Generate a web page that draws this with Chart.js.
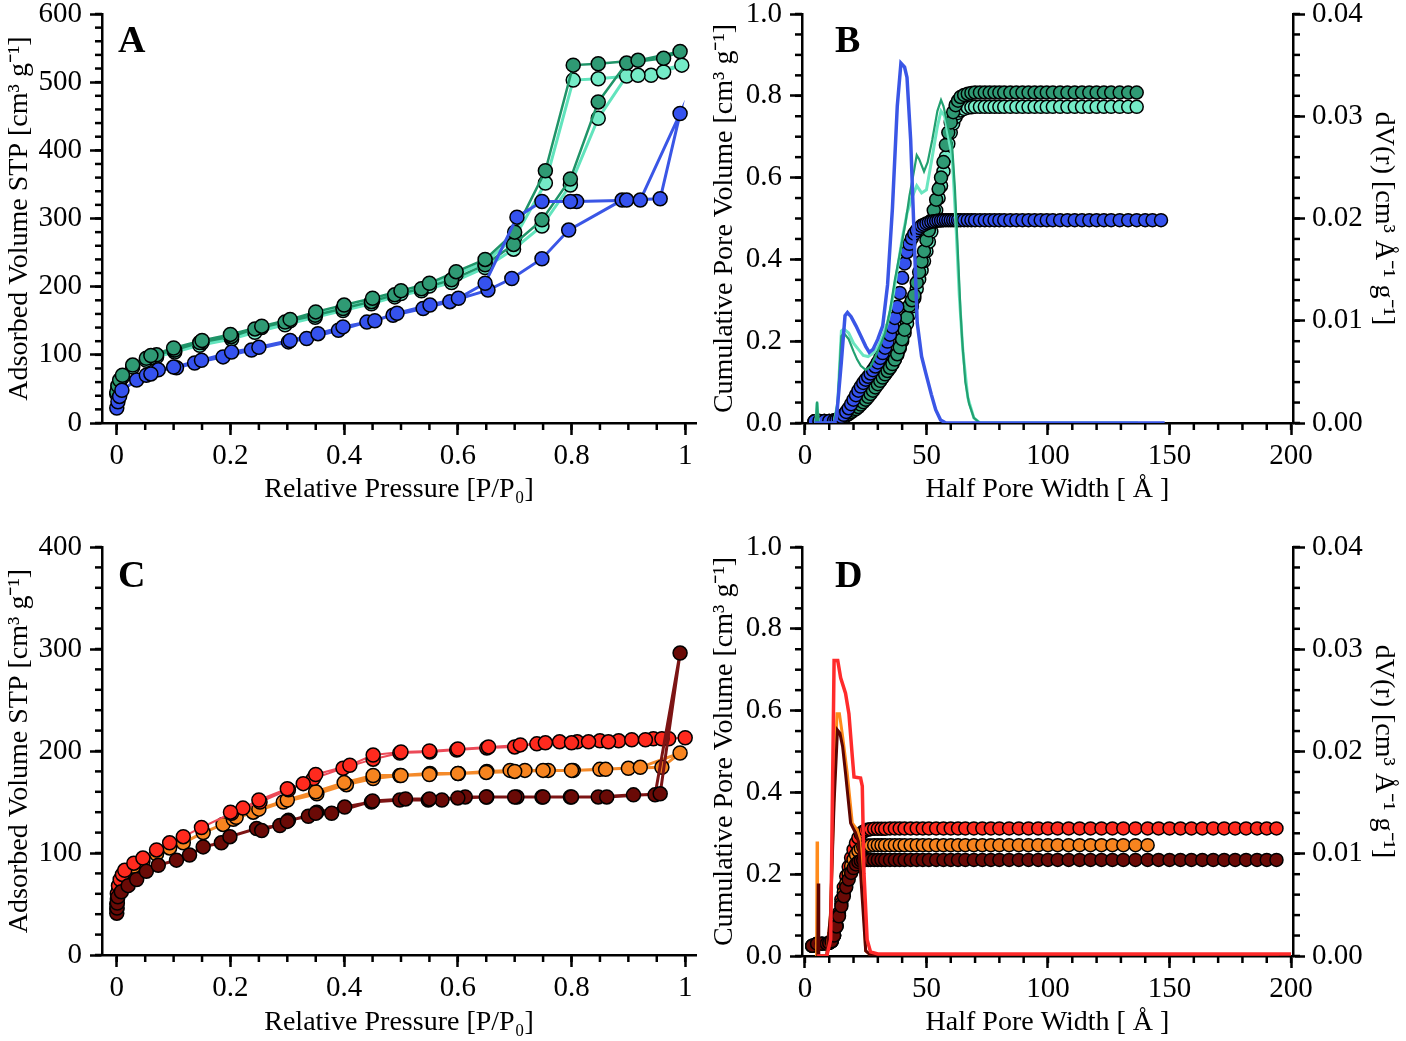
<!DOCTYPE html>
<html>
<head>
<meta charset="utf-8">
<script src="https://cdn.jsdelivr.net/npm/chart.js@4.4.0/dist/chart.umd.min.js"></script>
<style>
  html, body { margin: 0; padding: 0; background: #fff; }
  body { width: 1406px; height: 1041px; position: relative; overflow: hidden; }
  canvas { position: absolute; }
</style>
</head>
<body>
<canvas id="cA" width="703" height="508" style="left:0;top:0;width:703px;height:508px"></canvas>
<canvas id="cB" width="703" height="508" style="left:703px;top:0;width:703px;height:508px"></canvas>
<canvas id="cC" width="703" height="509" style="left:0;top:532px;width:703px;height:509px"></canvas>
<canvas id="cD" width="703" height="509" style="left:703px;top:532px;width:703px;height:509px"></canvas>
<script>
// ---- tick labels ----
const isoTicks = [0, 0.2, 0.4, 0.6, 0.8, 1];
const isoLabels = ['0', '0.2', '0.4', '0.6', '0.8', '1'];
const aTicks = [0, 100, 200, 300, 400, 500, 600];
const aLabels = ['0', '100', '200', '300', '400', '500', '600'];
const cTicks = [0, 100, 200, 300, 400];
const cLabels = ['0', '100', '200', '300', '400'];
const wTicks = [0, 50, 100, 150, 200];
const wLabels = ['0', '50', '100', '150', '200'];
const cumTicks = [0, 0.2, 0.4, 0.6, 0.8, 1.0];
const cumLabels = ['0.0', '0.2', '0.4', '0.6', '0.8', '1.0'];
const dvTicks = [0, 0.01, 0.02, 0.03, 0.04];
const dvLabels = ['0.00', '0.01', '0.02', '0.03', '0.04'];

// ---- panel A: isotherms (adsorption then desorption) ----
const aBlueP = [0,0.002,0.005,0.009,0.035,0.052,0.073,0.105,0.137,0.187,0.237,0.302,0.334,0.39,0.44,0.486,0.539,0.586,0.653,0.695,0.748,0.795,0.889,0.897,0.956,0.991,
  0.921,0.809,0.798,0.748,0.704,0.648,0.601,0.551,0.493,0.454,0.398,0.354,0.305,0.25,0.202,0.149,0.1,0.06];
const aBlueV = [22,31,39,48,63,70,78,81,88,97,107,119,124,136,148,158,168,178,195,212,241,283,327,327,329,454,
  327,325,325,325,302,205,183,173,161,150,141,131,121,111,104,92,82,72];
const aDarkP = [0,0.002,0.005,0.01,0.028,0.052,0.07,0.102,0.146,0.202,0.243,0.296,0.349,0.398,0.448,0.489,0.536,0.589,0.648,0.698,0.748,0.798,0.847,0.897,0.962,0.991,
  0.917,0.847,0.803,0.754,0.70,0.648,0.597,0.55,0.50,0.45,0.40,0.35,0.305,0.255,0.2,0.15,0.1,0.06];
const aDarkV = [45,55,63,70,85,95,100,107,118,127,138,148,158,168,178,188,197,210,232,262,298,358,471,528,535,545,
  532,527,525,370,280,240,222,205,194,183,173,163,152,142,130,121,110,99];
const aLightP = [0,0.002,0.005,0.01,0.028,0.052,0.07,0.102,0.146,0.202,0.243,0.296,0.349,0.398,0.448,0.489,0.536,0.589,0.648,0.698,0.748,0.798,0.847,0.897,0.94,0.962,0.994,
  0.917,0.847,0.803,0.754,0.70,0.648,0.597,0.55,0.50,0.45,0.40,0.35,0.305,0.255,0.2,0.15,0.1,0.06];
const aLightV = [42,52,60,67,82,92,97,104,114,123,133,144,155,165,175,185,194,206,228,255,289,349,447,509,510,515,525,
  510,505,503,352,272,236,218,201,190,179,169,160,150,140,127,118,107,96];

// ---- panel B: cumulative pore volume and dV(r) ----
const bW = [4,6,8,10,12,13,14,15,16,17,18,19,20,21,22,23,24,25,26,27,28,29,30,31,32,33,34,35,36,37,38,39,40,41,42,43,44,45,46,47,48,49,50,
  51,52,53,54,55,56,57,58,59,60,61,62,63,64,65.5,67,68.5,70,72,74,76,78,80,82,84.5,87,89.5,92,94.5,97,99.5,102,105,108,111,114,117,120,123,126,129.5,133,136.5,140,143,146.5];
const bBlueV = [0.004,0.005,0.005,0.005,0.006,
  0.008,0.011,0.015,0.02,0.027,0.036,0.046,0.057,0.068,0.079,0.089,0.098,0.106,0.113,0.121,0.129,0.138,0.148,0.159,0.171,0.184,0.199,0.216,0.235,0.257,
  0.284,0.318,0.355,0.39,0.418,0.438,0.452,0.463,0.471,0.477,0.482,0.485,0.488,0.49,0.492,0.493,0.494,0.495,0.495,
  0.496,0.496,0.496,0.496,0.496,0.496,0.496,0.496,0.496,0.496,
  0.496,0.496,0.496,0.496,0.496,0.496,0.496,0.496,0.496,0.496,
  0.496,0.496,0.496,0.496,0.496,0.496,0.496,0.496,0.496,0.496,
  0.496,0.496,0.496,0.496,0.496,0.496,0.496,0.496,0.496,0.496];
const bDarkV = [0.004,0.005,0.005,0.005,0.006,
  0.007,0.009,0.012,0.015,0.018,0.022,0.026,0.03,0.034,0.039,0.045,0.051,0.057,0.064,0.071,0.079,0.087,0.095,0.103,0.111,0.119,0.127,0.135,0.144,0.155,
  0.168,0.185,0.205,0.228,0.258,0.287,0.3,0.312,0.343,0.369,0.395,0.42,0.447,0.471,0.495,0.52,0.546,0.572,0.6,0.638,0.68,0.71,0.735,0.76,0.777,0.788,0.797,
  0.802,0.805,0.807,
  0.808,0.808,0.808,0.808,0.808,0.808,0.808,0.808,0.808,0.808,
  0.808,0.808,0.808,0.808,0.808,0.808,0.808,0.808,0.808,0.808,
  0.808,0.808,0.808,0.808,0.808,0.808];
const bLightV = [0.004,0.005,0.005,0.005,0.006,
  0.007,0.009,0.012,0.016,0.02,0.024,0.029,0.034,0.039,0.044,0.05,0.056,0.062,0.069,0.076,0.083,0.09,0.097,0.104,0.112,0.12,0.128,0.136,0.145,0.155,
  0.167,0.182,0.2,0.22,0.243,0.265,0.285,0.305,0.328,0.351,0.373,0.396,0.42,0.443,0.468,0.493,0.52,0.55,0.58,0.615,0.65,0.683,0.71,0.732,0.748,0.758,0.764,
  0.768,0.771,0.772,
  0.773,0.773,0.773,0.773,0.773,0.773,0.773,0.773,0.773,0.773,
  0.773,0.773,0.773,0.773,0.773,0.773,0.773,0.773,0.773,0.773,
  0.773,0.773,0.773,0.773,0.773,0.773];
const bBlueLineW = [4,12,13,15,16.5,17.5,19,21,23,25,26.5,28,30,32,34,36,38,39.5,41,42,43.5,45,46.2,48,49.7,52,53.8,55.8,58,148];
const bBlueLineD = [0,0,0.0005,0.006,0.0105,0.0108,0.0104,0.0095,0.0085,0.0075,0.0069,0.0072,0.0082,0.0095,0.0135,0.021,0.031,0.0352,0.0348,0.0338,0.0277,0.0179,0.0098,0.0065,0.0049,0.0028,0.0013,0.0003,0,0];
const bDarkLineW = [4.5,5,5.5,12,13.5,15,16,18,20,21.5,23,25,27,29,31,33,35,37,39,41.4,43,45,46,47,49,50.5,52.4,54.5,56,57,58.6,60.6,61.7,62.7,64,64.7,66,67.5,69.5,72,137];
const bDarkLineD = [0,0.0021,0,0,0.002,0.0085,0.0088,0.0082,0.007,0.0062,0.0056,0.0052,0.0055,0.0065,0.0076,0.0088,0.011,0.014,0.0165,0.0196,0.0222,0.0248,0.0262,0.0258,0.0246,0.0255,0.0277,0.0305,0.0316,0.031,0.0293,0.027,0.023,0.0179,0.011,0.0081,0.004,0.0019,0.0005,0,0];
const bLightLineW = [4.5,5,5.5,12,13.5,15,16,18,20,22,24,26,28,30,32,34,36,38,40,42,44,46,48,50,52,54.5,56,57.5,59,60.6,62,63.5,65,67,69.5,72,137];
const bLightLineD = [0,0.002,0,0,0.002,0.009,0.0092,0.0088,0.0078,0.0072,0.0066,0.0065,0.0068,0.0074,0.0085,0.0098,0.012,0.015,0.018,0.0205,0.022,0.0232,0.0225,0.0228,0.0255,0.029,0.0305,0.03,0.028,0.026,0.02,0.0125,0.007,0.0025,0.0005,0,0];

// ---- panel C: isotherms ----
const cRedP = [0,0.001,0.003,0.006,0.01,0.014,0.03,0.046,0.07,0.093,0.117,0.149,0.202,0.252,0.302,0.346,0.398,0.451,0.498,0.551,0.598,0.651,0.70,0.739,0.779,0.81,0.85,0.883,0.906,0.944,0.971,1.0,
  0.959,0.93,0.865,0.83,0.80,0.754,0.71,0.654,0.60,0.55,0.50,0.451,0.41,0.35,0.328,0.30,0.25,0.222,0.20];
const cRedV = [50,60,68,74,79,83,90,95,103,110,116,125,139,150,162,173,183,192,198,199,201,203,204,207,209,209,210,210,211,212,212,213,
  212,211,209,209,208,208,206,204,202,200,199,196,186,177,168,163,152,144,140];
const cOrangeP = [0,0.001,0.003,0.006,0.01,0.014,0.03,0.046,0.07,0.093,0.117,0.152,0.187,0.205,0.24,0.293,0.352,0.404,0.451,0.498,0.551,0.601,0.651,0.692,0.718,0.759,0.803,0.85,0.9,0.959,0.991,
  0.921,0.86,0.80,0.75,0.70,0.65,0.60,0.55,0.50,0.451,0.40,0.35,0.30,0.25,0.21];
const cOrangeV = [45,55,63,70,76,80,87,92,99,105,110,120,128,133,140,150,158,167,173,176,178,178,180,181,181,181,181,182,183,184,198,
  184,182,181,181,180,179,178,177,176,176,169,160,152,143,135];
const cBrownP = [0,0.0005,0.001,0.002,0.008,0.02,0.035,0.052,0.073,0.105,0.128,0.152,0.184,0.199,0.246,0.287,0.302,0.337,0.352,0.401,0.448,0.498,0.548,0.572,0.613,0.651,0.704,0.748,0.798,0.847,0.909,0.947,0.991,
  0.956,0.862,0.80,0.75,0.70,0.65,0.60,0.55,0.508,0.45,0.378,0.35,0.30,0.255];
const cBrownV = [41,46,51,57,62,68,74,82,88,93,98,106,110,116,124,127,132,136,140,145,150,152,152,152,155,155,155,155,155,155,157,157,296,
  158,155,155,155,155,155,154,153,153,151,139,139,131,122];

// ---- panel D: cumulative pore volume and dV(r) ----
const dW = [3,5,7,9,10,11,12,13,14,15,16,17,18,19,20,21,22,23,24,25,26,27,28.5,30,31.5,33,35,37,39,41,43.5,46,48.5,51,54,57,60,63,66,69.5,73,76.5,80,
  84,88,92,96,100,104,108.5,113,117.5,122,126.5,131,136,141,145.5,150,154.5,159,163.5,168,172.5,177,181.5,186,190,194];
const dRedV = [0.025,0.03,0.03,0.03,0.032,0.036,0.05,0.075,0.105,0.138,0.168,0.195,0.218,0.24,0.26,0.276,0.289,0.298,0.304,0.307,0.309,0.31,
  0.311,0.311,0.311,0.311,
  0.312,0.312,0.312,0.312,0.312,0.312,0.312,0.312,0.312,0.312,
  0.312,0.312,0.312,0.312,0.312,0.312,0.312,0.312,0.312,0.312,
  0.312,0.312,0.312,0.312,0.312,0.312,0.312,0.312,0.312,0.312,
  0.312,0.312,0.312,0.312,0.312,0.312,0.312,0.312,0.312,0.312,
  0.312,0.312,0.312];
const dOrangeV = [0.025,0.03,0.03,0.03,0.032,0.036,0.05,0.073,0.1,0.128,0.155,0.178,0.2,0.22,0.236,0.248,0.257,0.263,0.267,0.269,0.27,0.27,
  0.271,0.271,0.271,0.271,0.271,0.271,0.271,0.271,0.271,0.271,
  0.271,0.271,0.271,0.271,0.271,0.271,0.271,0.271,0.271,0.271,
  0.271,0.271,0.271,0.271,0.271,0.271,0.271,0.271,0.271,0.271,
  0.271,0.271,0.271,0.271,0.271];
const dBrownV = [0.025,0.03,0.03,0.03,0.032,0.036,0.05,0.072,0.097,0.122,0.146,0.168,0.187,0.203,0.215,0.224,0.23,0.233,0.234,
  0.235,0.235,0.235,0.235,0.235,0.235,0.235,0.235,0.235,0.235,
  0.235,0.235,0.235,0.235,0.235,0.235,0.235,0.235,0.235,0.235,
  0.235,0.235,0.235,0.235,0.235,0.235,0.235,0.235,0.235,0.235,
  0.235,0.235,0.235,0.235,0.235,0.235,0.235,0.235,0.235,0.235,
  0.235,0.235,0.235,0.235,0.235,0.235,0.235,0.235,0.235,0.235];
const dRedLineW = [5,9,10.6,12,13.5,14.7,16.7,18.1,19.5,20.2,22.9,23.6,24.3,25.6,27,30,200];
const dRedLineD = [0,0,0.0016,0.0289,0.0289,0.0272,0.0257,0.0237,0.0195,0.0175,0.0174,0.0166,0.0081,0.0016,0.0004,0.0002,0.0002];
const dOrangeLineW = [4.8,5,5.2,9,10.5,12,13.2,14.2,15.5,17.4,19.5,21.6,22.5,23.6,25,27,145];
const dOrangeLineD = [0,0.0112,0,0,0.004,0.016,0.0237,0.0237,0.0215,0.0179,0.013,0.0123,0.0115,0.0081,0.0005,0.0001,0];
const dBrownLineW = [5.3,5.5,5.7,9,10.5,12,13.4,14.4,15.5,16.7,18.8,20.9,22,22.9,25,27,195];
const dBrownLineD = [0,0.0071,0,0,0.004,0.015,0.0221,0.0218,0.0205,0.0179,0.013,0.012,0.0112,0.0081,0.0005,0.0001,0];

const FONT = "'Liberation Serif', 'Times New Roman', serif";

// small minor tick marks, drawn on the scales
const minorTicks = {
  id: 'minorTicks',
  afterDraw(chart, args, opts) {
    const ctx = chart.ctx;
    ctx.save();
    ctx.strokeStyle = '#000';
    ctx.lineWidth = 2.5;
    for (const id in opts.axes) {
      const sc = chart.scales[id];
      const [from, to, step, len] = opts.axes[id];
      for (let v = from; v <= to + step / 1000; v += step) {
        const p = sc.getPixelForValue(v);
        ctx.beginPath();
        if (sc.position === 'left') { ctx.moveTo(sc.right - len, p); ctx.lineTo(sc.right, p); }
        else if (sc.position === 'right') { ctx.moveTo(sc.left, p); ctx.lineTo(sc.left + len, p); }
        else { ctx.moveTo(p, sc.top); ctx.lineTo(p, sc.top + len); }
        ctx.stroke();
      }
    }
    ctx.restore();
  }
};

const panelLetter = {
  id: 'panelLetter',
  afterDraw(chart, args, o) {
    const { ctx, chartArea } = chart;
    ctx.save();
    ctx.font = 'bold 38px ' + FONT;
    ctx.fillStyle = '#000';
    ctx.fillText(o.text, chartArea.left + o.dx, chartArea.top + o.dy);
    ctx.restore();
  }
};

function axis(pos, min, max, ticks, labels, title, size, tickPad, titlePad) {
  return {
    type: 'linear', position: pos, min: min, max: max,
    afterBuildTicks: s => { s.ticks = ticks.map(v => ({ value: v })); },
    afterFit: s => {
      if (s.isHorizontal()) s.height = size; else s.width = size;
      s.paddingTop = 0; s.paddingBottom = 0; s.paddingLeft = 0; s.paddingRight = 0;
    },
    border: { display: true, color: '#000', width: 2.5 },
    grid: { display: true, drawOnChartArea: false, drawTicks: true, tickLength: 12, tickWidth: 2.5, tickColor: '#000' },
    ticks: { color: '#000', font: { family: FONT, size: 29 }, padding: tickPad, maxRotation: 0, autoSkip: false,
      callback: (v, i) => labels[i] },
    title: { display: true, text: title, color: '#000', font: { family: FONT, size: 28 }, padding: titlePad }
  };
}

function pts(xs, ys) { return ys.map((y, i) => ({ x: xs[i], y: y })); }

function marks(xs, ys, fill, line, lw, r, order, yAxisID) {
  return { data: pts(xs, ys), showLine: line !== null, borderColor: line || fill, borderWidth: lw,
    backgroundColor: fill, pointBackgroundColor: fill, pointBorderColor: '#000', pointBorderWidth: 1.5,
    pointRadius: r, order: order, yAxisID: yAxisID || 'y' };
}

function curve(xs, ys, color, lw, order) {
  return { data: pts(xs, ys), showLine: true, borderColor: color, borderWidth: lw, pointRadius: 0,
    order: order, yAxisID: 'y2' };
}

function make(id, datasets, scales, padding, minor, letter) {
  return new Chart(document.getElementById(id), {
    type: 'scatter',
    data: { datasets: datasets },
    options: {
      responsive: false, animation: false,
      layout: { padding: padding, autoPadding: false },
      scales: scales,
      plugins: { legend: { display: false }, tooltip: { enabled: false },
        minorTicks: { axes: minor }, panelLetter: letter }
    },
    plugins: [minorTicks, panelLetter]
  });
}

const volTitle = 'Adsorbed Volume STP [cm\u00b3 g\u207b\u00b9]';
const presTitle = 'Relative Pressure [P/P\u2080]';
const cumTitle = 'Cumulative Pore Volume [cm\u00b3 g\u207b\u00b9]';
const widthTitle = 'Half Pore Width [ \u00c5 ]';
const dvTitle = 'dV(r) [cm\u00b3 \u00c5\u207b\u00b9 g\u207b\u00b9]';

// A
make('cA', [
  marks(aBlueP, aBlueV, '#3552ee', '#3a56e6', 3, 7, 1),
  marks(aDarkP, aDarkV, '#2f9a74', '#1f9468', 2.5, 7, 2),
  marks(aLightP, aLightV, '#74ebc7', '#62e4bd', 3, 7, 3)
], {
  x: axis('bottom', -0.026, 1.019, isoTicks, isoLabels, presTitle, 85, 4, { top: 0, bottom: 2 }),
  y: axis('left', 0, 600, aTicks, aLabels, volTitle, 102, 8, { top: 3, bottom: 0 })
}, { top: 14, right: 7, left: 0, bottom: 0 },
{ x: [0, 1, 0.05, 7], y: [0, 600, 20, 7] }, { text: 'A', dx: 16, dy: 38 });

// B
make('cB', [
  curve(bBlueLineW, bBlueLineD, '#3a56e6', 3.5, 0),
  curve(bDarkLineW, bDarkLineD, '#22a070', 2.2, 1),
  curve(bLightLineW, bLightLineD, '#6be6c0', 3, 2),
  marks(bW, bBlueV, '#3552ee', null, 0, 6.5, 3),
  marks(bW, bDarkV, '#2f9a74', null, 0, 6.5, 4),
  marks(bW, bLightV, '#74ebc7', null, 0, 6.5, 5)
], {
  x: axis('bottom', -1.2, 200.8, wTicks, wLabels, widthTitle, 85, 4, { top: 0, bottom: 2 }),
  y: axis('left', 0, 1, cumTicks, cumLabels, cumTitle, 99, 8, { top: 5, bottom: 0 }),
  y2: axis('right', 0, 0.04, dvTicks, dvLabels, dvTitle, 113, 7, { top: 6, bottom: 0 })
}, { top: 14, right: 0, left: 0, bottom: 0 },
{ x: [0, 200, 10, 7], y: [0, 1, 0.05, 7], y2: [0, 0.04, 0.002, 7] }, { text: 'B', dx: 33, dy: 38 });

// C
make('cC', [
  marks(cBrownP, cBrownV, '#6a0a06', '#7c1414', 3, 7, 1),
  marks(cRedP, cRedV, '#ff2a1e', '#ec4a58', 2, 7, 2),
  marks(cOrangeP, cOrangeV, '#f7841f', '#f48a2a', 3, 7, 3)
], {
  x: axis('bottom', -0.026, 1.019, isoTicks, isoLabels, presTitle, 86, 4, { top: 0, bottom: 2 }),
  y: axis('left', 0, 400, cTicks, cLabels, volTitle, 102, 8, { top: 3, bottom: 0 })
}, { top: 15, right: 7, left: 0, bottom: 0 },
{ x: [0, 1, 0.05, 7], y: [0, 400, 20, 7] }, { text: 'C', dx: 16, dy: 40 });

// D
make('cD', [
  curve(dRedLineW, dRedLineD, '#ff2b2b', 3.5, 0),
  curve(dBrownLineW, dBrownLineD, '#5c0402', 3, 1),
  curve(dOrangeLineW, dOrangeLineD, '#ff8a1a', 3, 2),
  marks(dW, dBrownV, '#6a0a06', null, 0, 6.5, 3),
  marks(dW, dOrangeV, '#f7841f', null, 0, 6.5, 4),
  marks(dW, dRedV, '#ff2a1e', null, 0, 6.5, 5)
], {
  x: axis('bottom', -1.2, 200.8, wTicks, wLabels, widthTitle, 85, 4, { top: 0, bottom: 2 }),
  y: axis('left', 0, 1, cumTicks, cumLabels, cumTitle, 99, 8, { top: 5, bottom: 0 }),
  y2: axis('right', 0, 0.04, dvTicks, dvLabels, dvTitle, 113, 7, { top: 6, bottom: 0 })
}, { top: 15, right: 0, left: 0, bottom: 0 },
{ x: [0, 200, 10, 7], y: [0, 1, 0.05, 7], y2: [0, 0.04, 0.002, 7] }, { text: 'D', dx: 33, dy: 40 });
</script>
</body>
</html>
